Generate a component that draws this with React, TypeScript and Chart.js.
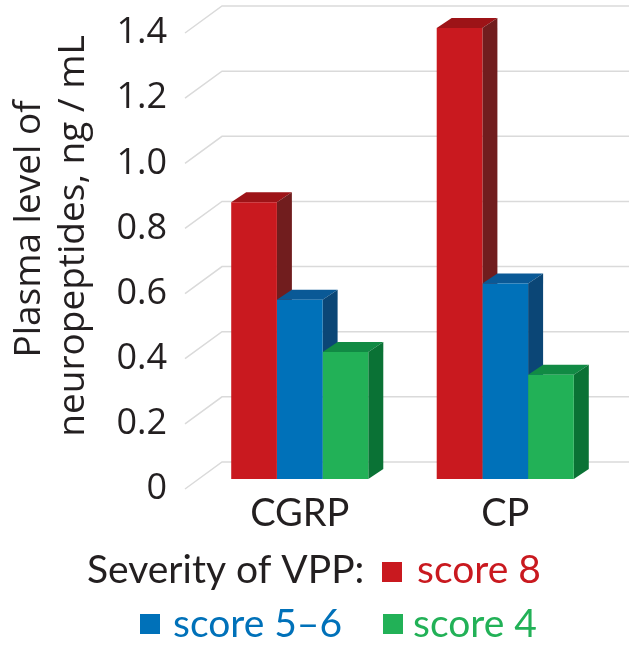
import React, { useEffect, useRef } from 'react';
import { Chart, registerables } from 'chart.js';

Chart.register(...registerables);

const categories = ['CGRP', 'CP'];
const seriesLabels = ['score 8', 'score 5–6', 'score 4'];
const score8 = [0.85, 1.385];
const score56 = [0.55, 0.6];
const score4 = [0.39, 0.32];
const yTickValues = [0, 0.2, 0.4, 0.6, 0.8, 1.0, 1.2, 1.4];
const yTitleLines = ['Plasma level of', 'neuropeptides, ng / mL'];
const legendTitle = 'Severity of VPP:';

const frontColors = ['#c9191f', '#0071b9', '#22b157'];
const topColors = ['#9d1317', '#0a5996', '#118a44'];
const sideColors = ['#711d1e', '#0b4676', '#0a7235'];
const textColor = '#231f20';
const gridColor = '#dadada';

const W = 629;
const H = 661;
const FRONT_SHIFT_PX = 10;
const DEPTH_DX = 15;
const DEPTH_DY = -10;
const WALL_DX = 37;
const WALL_DY = -27;

const threeDPlugin = {
  id: 'threeD',
  beforeDatasetsDraw(chart: any) {
    const ctx = chart.ctx;
    const ys = chart.scales.y;
    const ca = chart.chartArea;
    ctx.save();
    ctx.strokeStyle = gridColor;
    ctx.lineWidth = 1.5;
    ys.ticks.forEach((t: any) => {
      const p = ys.getPixelForValue(t.value);
      ctx.beginPath();
      ctx.moveTo(ca.left - 12, p);
      ctx.lineTo(ca.left - 12 + WALL_DX, p + WALL_DY);
      ctx.lineTo(chart.width, p + WALL_DY);
      ctx.stroke();
    });
    chart.data.datasets.forEach((ds: any, i: number) => {
      const meta = chart.getDatasetMeta(i);
      meta.data.forEach((bar: any) => {
        const { x, y, base, width } = bar.getProps(['x', 'y', 'base', 'width'], true);
        const xl = x - width / 2;
        const xr = x + width / 2;
        ctx.fillStyle = topColors[i];
        ctx.beginPath();
        ctx.moveTo(xl, y);
        ctx.lineTo(xr, y);
        ctx.lineTo(xr + DEPTH_DX, y + DEPTH_DY);
        ctx.lineTo(xl + DEPTH_DX, y + DEPTH_DY);
        ctx.closePath();
        ctx.fill();
        ctx.fillStyle = sideColors[i];
        ctx.beginPath();
        ctx.moveTo(xr, y);
        ctx.lineTo(xr + DEPTH_DX, y + DEPTH_DY);
        ctx.lineTo(xr + DEPTH_DX, base + DEPTH_DY);
        ctx.lineTo(xr, base);
        ctx.closePath();
        ctx.fill();
      });
    });
    ctx.restore();
  },
  afterDraw(chart: any) {
    const ctx = chart.ctx;
    ctx.save();
    ctx.fillStyle = textColor;
    ctx.font = '37px "Open Sans"';
    ctx.textAlign = 'center';
    ctx.textBaseline = 'alphabetic';
    const titlePos = [
      [40, 229],
      [84, 236],
    ];
    yTitleLines.forEach((line, k) => {
      ctx.save();
      ctx.translate(titlePos[k][0], titlePos[k][1]);
      ctx.rotate(-Math.PI / 2);
      ctx.fillText(line, 0, 0);
      ctx.restore();
    });
    ctx.textAlign = 'left';
    ctx.font = '39px Lato';
    ctx.fillStyle = textColor;
    ctx.fillText(legendTitle, 87, 583);
    const ds = chart.data.datasets;
    const items = [
      { sx: 382, sy: 562, tx: 417, ty: 583 },
      { sx: 140, sy: 614, tx: 173, ty: 637 },
      { sx: 383, sy: 614, tx: 413, ty: 637 },
    ];
    items.forEach((it, i) => {
      ctx.fillStyle = ds[i].backgroundColor;
      ctx.fillRect(it.sx, it.sy, 20, 20);
      ctx.fillText(ds[i].label, it.tx, it.ty);
    });
    ctx.restore();
  },
};

export default function App() {
  const ref = useRef<HTMLCanvasElement>(null);
  useEffect(() => {
    document.body.style.margin = '0';
    const canvas = ref.current!;
    const pxPerUnit = (489 - 33) / 1.4;
    const off = FRONT_SHIFT_PX / pxPerUnit;
    const seriesValues = [score8, score56, score4];
    const chart = new Chart(canvas, {
      type: 'bar',
      data: {
        labels: categories,
        datasets: seriesValues.map((vals, i) => ({
          label: seriesLabels[i],
          data: vals,
          yAxisID: 'yb',
          backgroundColor: frontColors[i],
          borderWidth: 0,
          categoryPercentage: 0.667,
          barPercentage: 1,
          clip: false as any,
        })),
      },
      options: {
        responsive: false,
        animation: false,
        layout: { padding: { top: 33, right: 21, bottom: 112, left: 0 } },
        plugins: {
          legend: { display: false },
          tooltip: { enabled: false },
        },
        scales: {
          x: {
            offset: true,
            grid: { display: false },
            border: { display: false },
            ticks: {
              font: { family: 'Lato', size: 38 },
              color: textColor,
              padding: -6,
            },
            afterFit: (s: any) => {
              s.height = 60;
              s.paddingLeft = 0;
              s.paddingRight = 0;
            },
          },
          y: {
            position: 'left',
            min: 0,
            max: 1.4,
            grid: { display: false },
            border: { display: false },
            afterBuildTicks: (s: any) => {
              s.ticks = yTickValues.map((v) => ({ value: v }));
            },
            ticks: {
              font: { family: 'Open Sans', size: 36 },
              color: textColor,
              padding: 22,
              callback: (v: any) => (Number(v) === 0 ? '0' : Number(v).toFixed(1)),
            },
            afterFit: (s: any) => {
              s.width = 197;
              s.paddingTop = 0;
              s.paddingBottom = 0;
            },
          },
          yb: {
            display: false,
            min: -off,
            max: 1.4 - off,
          },
        },
      },
      plugins: [threeDPlugin],
    });
    return () => chart.destroy();
  }, []);
  return (
    <div style={{ width: W, height: H }}>
      <canvas ref={ref} width={W} height={H} />
    </div>
  );
}
